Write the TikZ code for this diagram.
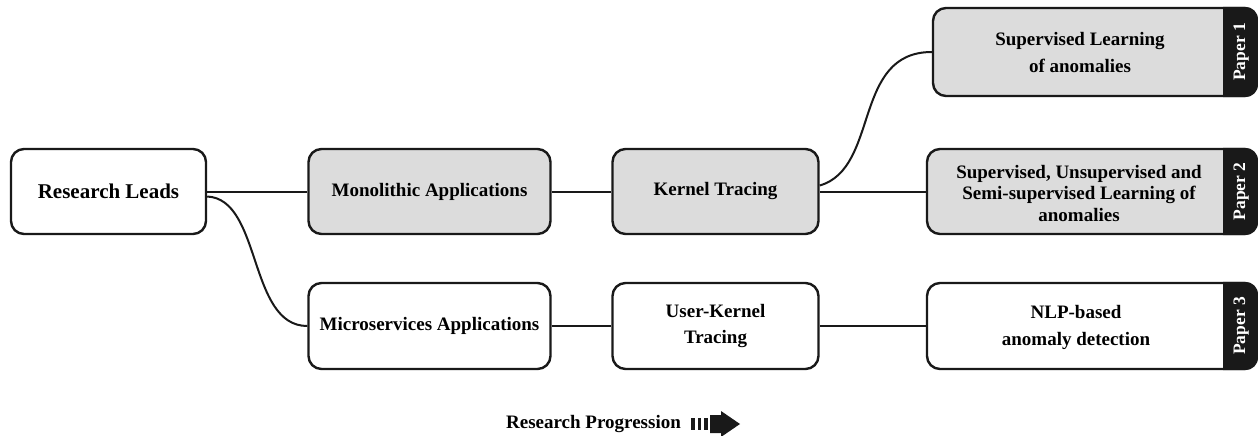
\documentclass[tikz,border=0pt]{standalone}
\usepackage{fontspec}
\setmainfont{Liberation Serif}
\usetikzlibrary{calc}
\definecolor{boxgray}{HTML}{DCDCDC}
\begin{document}
\begin{tikzpicture}[x=1pt,y=-1pt,
  box/.style={draw=black!90, line width=2.4pt, rounded corners=13pt, fill=white,
    font=\fontsize{19}{25}\selectfont\bfseries, align=center, inner sep=0pt},
  graybox/.style={box, fill=boxgray},
  conn/.style={line width=2pt, draw=black!90},
  tablabel/.style={text=white, rotate=90, font=\fontsize{17.5}{19}\selectfont\bfseries, inner sep=0pt},
  boxtext/.style={font=\fontsize{19}{27}\selectfont\bfseries, align=center, inner sep=0pt}
]
\useasboundingbox (0,0) rectangle (1258,436);

% main chain of nodes
\node[box, minimum width=195pt, minimum height=85pt, font=\fontsize{21}{25}\selectfont\bfseries] (rl) at (108.5,191.5) {Research Leads};
\node[graybox, minimum width=242pt, minimum height=85pt] (mono) at (429.5,191.5) {Monolithic Applications};
\node[graybox, minimum width=206pt, minimum height=85pt] (kt) at (715.5,191.5) {Kernel Tracing};
\node[box, minimum width=242pt, minimum height=86pt] (micro) at (429.5,326) {Microservices Applications};
\node[box, minimum width=206pt, minimum height=86pt] (uk) at (715.5,326) {User-Kernel\\[1pt]Tracing};

% paper boxes
\node[graybox, minimum width=324pt, minimum height=88pt] (p1) at (1095,52) {};
\node[graybox, minimum width=330pt, minimum height=85pt] (p2) at (1092,191.5) {};
\node[box, minimum width=330pt, minimum height=86pt] (p3) at (1092,326) {};

% black tabs on the right of each paper box
\foreach \p in {p1,p2,p3}{
  \begin{scope}
    \clip ($(\p.north east)+(-35,-5)$) rectangle ($(\p.south east)+(5,5)$);
    \fill[black!90, rounded corners=13pt] (\p.north west) rectangle (\p.south east);
  \end{scope}
}

\node[boxtext] (p1t) at (1080,53) {Supervised Learning\\of anomalies};
\node[boxtext, font=\fontsize{19}{21.5}\selectfont\bfseries] (p2t) at (1079,193) {Supervised, Unsupervised and\\Semi-supervised Learning of\\anomalies};
\node[boxtext] (p3t) at (1076,327) {NLP-based\\anomaly detection};

\node[tablabel] (p1l) at ($(p1.east)+(-17,0)$) {Paper 1};
\node[tablabel] (p2l) at ($(p2.east)+(-17,0)$) {Paper 2};
\node[tablabel] (p3l) at ($(p3.east)+(-17,0)$) {Paper 3};

% connectors
\draw[conn] (rl) -- (mono);
\draw[conn] (mono) -- (kt);
\draw[conn] (kt) -- (p2);
\draw[conn] (micro) -- (uk);
\draw[conn] (uk) -- (p3);
\draw[conn] ($(rl.east)+(0,5)$) .. controls (262,199) and (248,326) .. (micro.west);
\draw[conn] ($(kt.east)+(0,-6)$) .. controls (880,168) and (852,52) .. (p1.west);

% progression legend
\node[font=\fontsize{19}{22}\selectfont\bfseries, inner sep=0pt] (prog) at (593.5,424.5) {Research Progression};
\fill[black!90] (691,418) rectangle (694.5,430);
\fill[black!90] (697.5,418) rectangle (701,430);
\fill[black!90] (704,418) rectangle (707.5,430);
\fill[black!90] (710,415) -- (721,415) -- (721,411) -- (740,424) -- (721,437) -- (721,433) -- (710,433) -- cycle;
\end{tikzpicture}
\end{document}
